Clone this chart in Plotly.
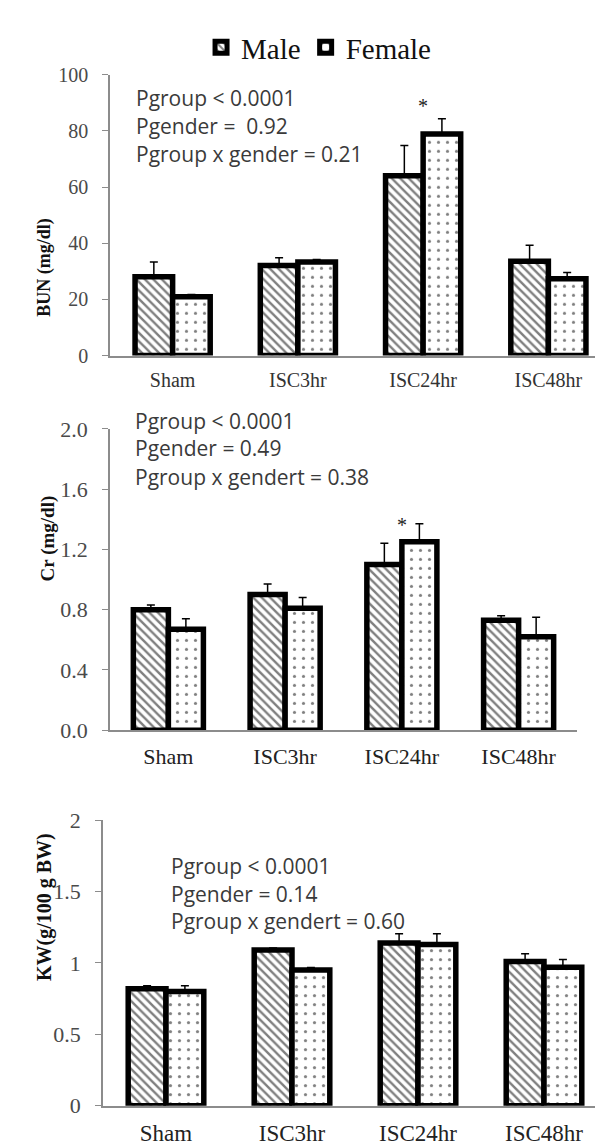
import plotly.graph_objects as go

W, H = 603, 1145

groups = ["Sham", "ISC3hr", "ISC24hr", "ISC48hr"]

bun_male = [28.1, 32.1, 64.0, 33.6]
bun_male_err = [5.2, 2.7, 10.8, 5.7]
bun_female = [20.9, 33.3, 78.9, 27.3]
bun_female_err = [0.8, 0.9, 5.4, 2.3]

cr_male = [0.80, 0.90, 1.10, 0.73]
cr_male_err = [0.03, 0.07, 0.14, 0.03]
cr_female = [0.67, 0.81, 1.25, 0.62]
cr_female_err = [0.07, 0.07, 0.12, 0.13]

kw_male = [0.82, 1.09, 1.14, 1.01]
kw_male_err = [0.02, 0.015, 0.065, 0.055]
kw_female = [0.80, 0.95, 1.13, 0.97]
kw_female_err = [0.04, 0.018, 0.075, 0.055]

bun_stats = ["Pgroup &lt; 0.0001", "Pgender =  0.92", "Pgroup x gender = 0.21"]
cr_stats = ["Pgroup &lt; 0.0001", "Pgender = 0.49", "Pgroup x gendert = 0.38"]
kw_stats = ["Pgroup &lt; 0.0001", "Pgender = 0.14", "Pgroup x gendert = 0.60"]

star_group = "ISC24hr"
bun_star_y = 89
cr_star_y = 1.36

SERIF = "Liberation Serif"
SANS = "Open Sans"


def px_x(p):
    return p / W


def px_y(p):
    return 1 - p / H


panels = [
    dict(key="", male=bun_male, me=bun_male_err, female=bun_female, fe=bun_female_err, legend=True),
    dict(key="2", male=cr_male, me=cr_male_err, female=cr_female, fe=cr_female_err, legend=False),
    dict(key="3", male=kw_male, me=kw_male_err, female=kw_female, fe=kw_female_err, legend=False),
]

fig = go.Figure()
for p in panels:
    xa = "x" + p["key"]
    ya = "y" + p["key"]
    fig.add_trace(go.Bar(
        x=groups, y=p["male"], name="Male", xaxis=xa, yaxis=ya,
        showlegend=p["legend"], legendgroup="m",
        marker=dict(color="white", line=dict(color="black", width=5.5),
                    pattern=dict(shape="\\", fgcolor="black", bgcolor="white", size=6, solidity=0.4)),
        error_y=dict(type="data", array=p["me"], arrayminus=[0] * 4, symmetric=False,
                     color="black", thickness=1.5, width=4),
    ))
    fig.add_trace(go.Bar(
        x=groups, y=p["female"], name="Female", xaxis=xa, yaxis=ya,
        showlegend=p["legend"], legendgroup="f",
        marker=dict(color="white", line=dict(color="black", width=5.5),
                    pattern=dict(shape=".", fgcolor="black", bgcolor="white", size=9, solidity=0.1)),
        error_y=dict(type="data", array=p["fe"], arrayminus=[0] * 4, symmetric=False,
                     color="black", thickness=1.5, width=4),
    ))

axis_common = dict(showline=True, linecolor="#8c8c8c", linewidth=1.5, showgrid=False, zeroline=False)

xdefs = [
    (102, 603, 20, "#333"),
    (102, 569, 22, "#222"),
    (95, 599, 23, "#222"),
]
ydefs = [
    (343, 56, [0, 100], [0, 20, 40, 60, 80, 100], None, 20),
    (726, 418, [0, 2], [0, 0.4, 0.8, 1.2, 1.6, 2.0], ".1f", 22),
    (1110, 818, [0, 2], [0, 0.5, 1, 1.5, 2], None, 22),
]

layout = dict(
    width=W, height=H, margin=dict(l=0, r=0, t=0, b=0),
    paper_bgcolor="white", plot_bgcolor="white",
    barmode="group", bargap=0.4, bargroupgap=0,
    showlegend=True,
    font=dict(family=SERIF),
    legend=dict(orientation="h", x=0.515, xanchor="center", y=px_y(28), yanchor="middle",
                font=dict(family=SERIF, size=29, color="#111"), itemwidth=30,
                bgcolor="rgba(0,0,0,0)", tracegroupgap=0),
)

for i, (p, xd, yd) in enumerate(zip(panels, xdefs, ydefs)):
    k = "" if i == 0 else str(i + 1)
    x0, x1, xfs, xcol = xd
    yb, yt, yr, tv, fmt, yfs = yd
    layout["xaxis" + k] = dict(
        axis_common, domain=[px_x(x0), px_x(x1)], range=[-0.5, 3.5],
        anchor="y" + k, ticks="", type="category",
        tickfont=dict(family=SERIF, size=xfs, color=xcol), ticklabelstandoff=6,
    )
    yax = dict(
        axis_common, domain=[px_y(yb), px_y(yt)], range=yr, anchor="x" + k,
        tickmode="array", tickvals=tv, ticks="outside", ticklen=6, tickcolor="#8c8c8c",
        tickwidth=1.2, tickfont=dict(family=SERIF, size=yfs, color="#4a4a4a"),
        ticklabelstandoff=10,
    )
    if fmt:
        yax["tickformat"] = fmt
    layout["yaxis" + k] = yax

fig.update_layout(**layout)

ann = []
ann.append(dict(text="<b>BUN (mg/dl)</b>", x=px_x(24), y=px_y(200), xref="paper", yref="paper",
                textangle=-90, showarrow=False, font=dict(family=SERIF, size=18, color="#111")))
ann.append(dict(text="<b>Cr (mg/dl)</b>", x=px_x(27), y=px_y(530), xref="paper", yref="paper",
                textangle=-90, showarrow=False, font=dict(family=SERIF, size=19, color="#111")))
ann.append(dict(text="<b>KW(g/100 g BW)</b>", x=px_x(23), y=px_y(985), xref="paper", yref="paper",
                textangle=-90, showarrow=False, font=dict(family=SERIF, size=20, color="#111")))

stat_blocks = [(bun_stats, 126, [80, 108, 137]), (cr_stats, 125, [410, 438, 467]), (kw_stats, 161, [865, 893, 921])]
for lines, lx, ys in stat_blocks:
    for t, yy in zip(lines, ys):
        ann.append(dict(text=t, x=px_x(lx), y=px_y(yy), xref="paper", yref="paper",
                        xanchor="left", yanchor="middle", showarrow=False,
                        font=dict(family=SANS, size=21, color="#3a3a3a")))

ann.append(dict(text="*", x=star_group, y=bun_star_y, xref="x", yref="y", showarrow=False,
                yanchor="middle", font=dict(family=SERIF, size=20, color="#222")))
ann.append(dict(text="*", x=star_group, y=cr_star_y, xref="x2", yref="y2", showarrow=False,
                yanchor="middle", font=dict(family=SERIF, size=20, color="#222")))

fig.update_layout(annotations=ann)

fig.write_html("out.html")
